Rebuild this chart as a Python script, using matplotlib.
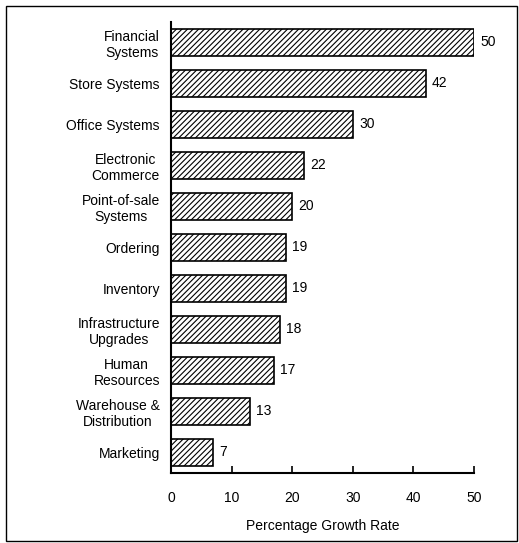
import matplotlib.pyplot as plt
from matplotlib.patches import Rectangle

plt.rcParams['font.family'] = ['Liberation Sans', 'DejaVu Sans']
plt.rcParams['hatch.linewidth'] = 0.8

# Growth rate by system category
categories = ["Financial\nSystems", "Store Systems", "Office Systems",
              "Electronic\nCommerce", "Point-of-sale\nSystems", "Ordering",
              "Inventory", "Infrastructure\nUpgrades", "Human\nResources",
              "Warehouse &\nDistribution", "Marketing"]
growth = [50, 42, 30, 22, 20, 19, 19, 18, 17, 13, 7]
xticks = [0, 10, 20, 30, 40, 50]

fig = plt.figure(figsize=(5.19, 5.43), dpi=100)
ax = fig.add_axes([0.3295, 0.1289, 0.584, 0.8306])

pos = list(range(len(categories)))
ax.barh(pos, growth, height=0.66, color='white', edgecolor='black',
        hatch='//////', linewidth=1.2)
for p, v in zip(pos, growth):
    ax.text(v + 1.0, p, str(v), va='center', ha='left', fontsize=10)

ax.set_ylim(10.51, -0.49)
ax.set_xlim(0, 50)
ax.set_yticks(pos)
ax.set_yticklabels(categories, fontsize=10, ha='right', multialignment='center')
ax.tick_params(axis='y', length=0, pad=8)
ax.set_xticks(xticks)
ax.set_xticklabels([str(t) for t in xticks], fontsize=10)
ax.tick_params(axis='x', direction='in', length=5, width=1.2, pad=13)
ax.set_xlabel("Percentage Growth Rate", fontsize=10, labelpad=10)

for s in ['top', 'right']:
    ax.spines[s].set_visible(False)
for s in ['left', 'bottom']:
    ax.spines[s].set_linewidth(1.5)

# outer frame
fig.patches.append(Rectangle((6 / 519, 2 / 543), 511 / 519, 535 / 543,
                             transform=fig.transFigure, fill=False,
                             edgecolor='black', linewidth=1.0))

fig.savefig("out.png", dpi=100)
